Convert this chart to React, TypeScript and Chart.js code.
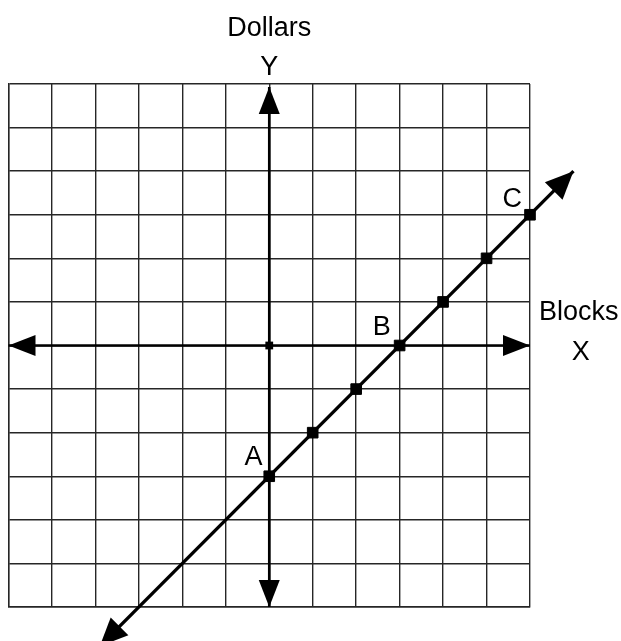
import React, { useEffect, useRef } from "react";
import { Chart, registerables } from "chart.js";
Chart.register(...registerables);

// Grid range (blocks / dollars)
const gridMin = -6;
const gridMax = 6;

// Plotted points on the line y = x - 3
const markerX = [0, 1, 2, 3, 4, 5, 6];
const markerY = [-3, -2, -1, 0, 1, 2, 3];

// Origin marker
const originX = [0];
const originY = [0];

// Line with arrows (extends beyond the grid)
const lineX = [-3.9, 7];
const lineY = [-6.9, 4];

// Axes with arrows
const xAxisX = [-6, 6];
const xAxisY = [0, 0];
const yAxisX = [0, 0];
const yAxisY = [-6, 5.93];

// Text labels and their anchors (data units, baseline)
const pointLabels = ["A", "B", "C"];
const pointLabelX = [-0.36, 2.59, 5.59];
const pointLabelY = [-2.74, 0.25, 3.18];

const axisTitles = ["Dollars", "Y", "Blocks", "X"];
const axisTitleX = [0, 0, 7.12, 7.17];
const axisTitleY = [7.11, 6.21, 0.59, -0.33];

const toPts = (xs: number[], ys: number[]) => xs.map((x, i) => ({ x, y: ys[i] }));

const FONT = '27px "Liberation Sans", Arial, Helvetica, sans-serif';

const arrowPlugin = {
  id: "arrowHeads",
  afterDatasetsDraw(chart: any) {
    const ctx = chart.ctx;
    ctx.save();
    ctx.fillStyle = "#000";
    chart.data.datasets.forEach((ds: any, i: number) => {
      if (!ds.arrowHead) return;
      const pts = chart.getDatasetMeta(i).data;
      if (!pts || pts.length < 2) return;
      const [len, half] = ds.arrowHead;
      const draw = (tip: any, from: any) => {
        const dx = tip.x - from.x;
        const dy = tip.y - from.y;
        const d = Math.hypot(dx, dy);
        const ux = dx / d;
        const uy = dy / d;
        const bx = tip.x - ux * len;
        const by = tip.y - uy * len;
        ctx.beginPath();
        ctx.moveTo(tip.x, tip.y);
        ctx.lineTo(bx - uy * half, by + ux * half);
        ctx.lineTo(bx + uy * half, by - ux * half);
        ctx.closePath();
        ctx.fill();
      };
      draw(pts[pts.length - 1], pts[0]);
      draw(pts[0], pts[pts.length - 1]);
    });
    ctx.restore();
  },
};

const textPlugin = {
  id: "textLabels",
  afterDraw(chart: any) {
    const ctx = chart.ctx;
    const xs = chart.scales.x;
    const ys = chart.scales.y;
    ctx.save();
    ctx.fillStyle = "#000";
    ctx.font = FONT;
    ctx.textAlign = "center";
    ctx.textBaseline = "alphabetic";
    pointLabels.forEach((t, i) => {
      ctx.fillText(t, xs.getPixelForValue(pointLabelX[i]), ys.getPixelForValue(pointLabelY[i]));
    });
    axisTitles.forEach((t, i) => {
      ctx.fillText(t, xs.getPixelForValue(axisTitleX[i]), ys.getPixelForValue(axisTitleY[i]));
    });
    ctx.restore();
  },
};

export default function App() {
  const ref = useRef<HTMLCanvasElement>(null);

  useEffect(() => {
    if (!ref.current) return;
    const gridOpts = {
      color: "#262626",
      lineWidth: 1.4,
      drawTicks: false,
    };
    const chart = new Chart(ref.current, {
      type: "scatter",
      data: {
        datasets: [
          {
            label: "origin",
            data: toPts(originX, originY),
            pointStyle: "rect",
            pointRadius: 5.5,
            backgroundColor: "#000",
            borderColor: "#000",
            borderWidth: 0,
            showLine: false,
            clip: false,
          } as any,
          {
            label: "points",
            data: toPts(markerX, markerY),
            pointStyle: "rect",
            pointRadius: 7.5,
            backgroundColor: "#000",
            borderColor: "#000",
            borderWidth: 1,
            showLine: false,
            clip: false,
          },
          {
            label: "line",
            data: toPts(lineX, lineY),
            showLine: true,
            borderColor: "#000",
            borderWidth: 3.3,
            pointRadius: 0,
            clip: false,
            arrowHead: [28, 12.5],
          },
          {
            label: "xAxis",
            data: toPts(xAxisX, xAxisY),
            showLine: true,
            borderColor: "#000",
            borderWidth: 2.6,
            pointRadius: 0,
            clip: false,
            arrowHead: [27, 10.5],
          },
          {
            label: "yAxis",
            data: toPts(yAxisX, yAxisY),
            showLine: true,
            borderColor: "#000",
            borderWidth: 2.6,
            pointRadius: 0,
            clip: false,
            arrowHead: [27, 10.5],
          },
        ] as any,
      },
      options: {
        animation: false,
        responsive: false,
        maintainAspectRatio: false,
        layout: { padding: { left: 7, right: 91, top: 84, bottom: 34 } },
        plugins: {
          legend: { display: false },
          tooltip: { enabled: false },
          title: { display: false },
        },
        scales: {
          x: {
            type: "linear",
            min: gridMin,
            max: gridMax,
            ticks: { display: false, stepSize: 1 },
            grid: gridOpts,
            border: { display: true, color: "#262626", width: 1.4 },
          },
          y: {
            type: "linear",
            min: gridMin,
            max: gridMax,
            ticks: { display: false, stepSize: 1 },
            grid: gridOpts,
            border: { display: true, color: "#262626", width: 1.4 },
          },
        },
      },
      plugins: [arrowPlugin, textPlugin],
    });
    return () => chart.destroy();
  }, []);

  return (
    <div style={{ position: "absolute", left: 0, top: 0, width: 621, height: 641, background: "#fff" }}>
      <canvas ref={ref} width={621} height={641} />
    </div>
  );
}
